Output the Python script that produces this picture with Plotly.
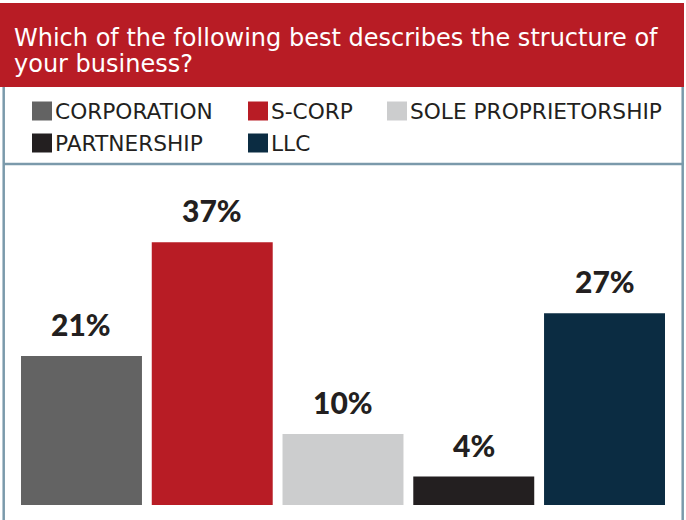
import plotly.graph_objects as go

# Survey results: business structure
categories = ["CORPORATION", "S-CORP", "SOLE PROPRIETORSHIP", "PARTNERSHIP", "LLC"]
shares = [21, 37, 10, 4, 27]
colors = ["#636363", "#b81c25", "#cccdce", "#231f20", "#0b2c42"]
title_lines = ["Which of the following best describes the structure of",
               "your business?"]

W, H = 686, 520
RED = "#b81c25"
BORDER = "#7b9aab"
INK = "#231f20"


def px(x):
    return x / W


def py(y):
    return 1 - y / H


fig = go.Figure()
fig.add_trace(go.Bar(
    x=list(range(len(categories))),
    y=shares,
    marker=dict(color=colors, line=dict(width=0)),
    hoverinfo="skip",
    showlegend=False,
))

# value labels above each bar
annotations = []
for i, v in enumerate(shares):
    annotations.append(dict(
        x=i, y=v, xref="x", yref="y", text=f"{v}%", showarrow=False,
        yanchor="bottom", yshift=12,
        font=dict(family="Lato", size=30, color=INK, weight=900),
    ))

# header title, one annotation per line for tight leading
for line, base in zip(title_lines, [38, 64]):
    annotations.append(dict(
        x=px(12), y=py(base), xref="paper", yref="paper", text=line,
        showarrow=False, xanchor="left", yanchor="middle", align="left",
        font=dict(family="DejaVu Sans", size=24, color="white"),
    ))

# legend grid: (column x, row y) for each category
legend_cols = [32, 248, 387, 32, 248]
legend_rows = [111, 111, 111, 143, 143]
shapes = [
    dict(type="rect", xref="paper", yref="paper", x0=0, x1=px(684),
         y0=py(3), y1=py(87), fillcolor=RED, line=dict(width=0), layer="below"),
    dict(type="line", xref="paper", yref="paper", x0=px(3.7), x1=px(3.7),
         y0=py(87), y1=0, line=dict(color=BORDER, width=2.5)),
    dict(type="line", xref="paper", yref="paper", x0=px(682.7), x1=px(682.7),
         y0=py(87), y1=0, line=dict(color=BORDER, width=2.5)),
    dict(type="line", xref="paper", yref="paper", x0=px(3), x1=px(684),
         y0=py(164), y1=py(164), line=dict(color=BORDER, width=2.5)),
]
for name, col, lx, ly in zip(categories, colors, legend_cols, legend_rows):
    shapes.append(dict(type="rect", xref="paper", yref="paper",
                       x0=px(lx), x1=px(lx + 20), y0=py(ly - 9.5), y1=py(ly + 9.5),
                       fillcolor=col, line=dict(width=0)))
    annotations.append(dict(
        x=px(lx + 21), y=py(ly + 0.5), xref="paper", yref="paper", text=name,
        showarrow=False, xanchor="left", yanchor="middle",
        font=dict(family="DejaVu Sans", size=21.7, color=INK),
    ))

PX_PER_PCT = 7.1
bar_floor = 505
fig.update_layout(
    width=W, height=H,
    margin=dict(l=0, r=0, t=0, b=0),
    paper_bgcolor="white", plot_bgcolor="rgba(0,0,0,0)",
    bargap=0.075,
    xaxis=dict(domain=[px(16.1), px(669.9)], range=[-0.5, 4.5],
               visible=False, fixedrange=True),
    yaxis=dict(domain=[(H - bar_floor) / H, 1], range=[0, bar_floor / PX_PER_PCT],
               visible=False, fixedrange=True),
    shapes=shapes,
    annotations=annotations,
)

fig.write_html("out.html")
